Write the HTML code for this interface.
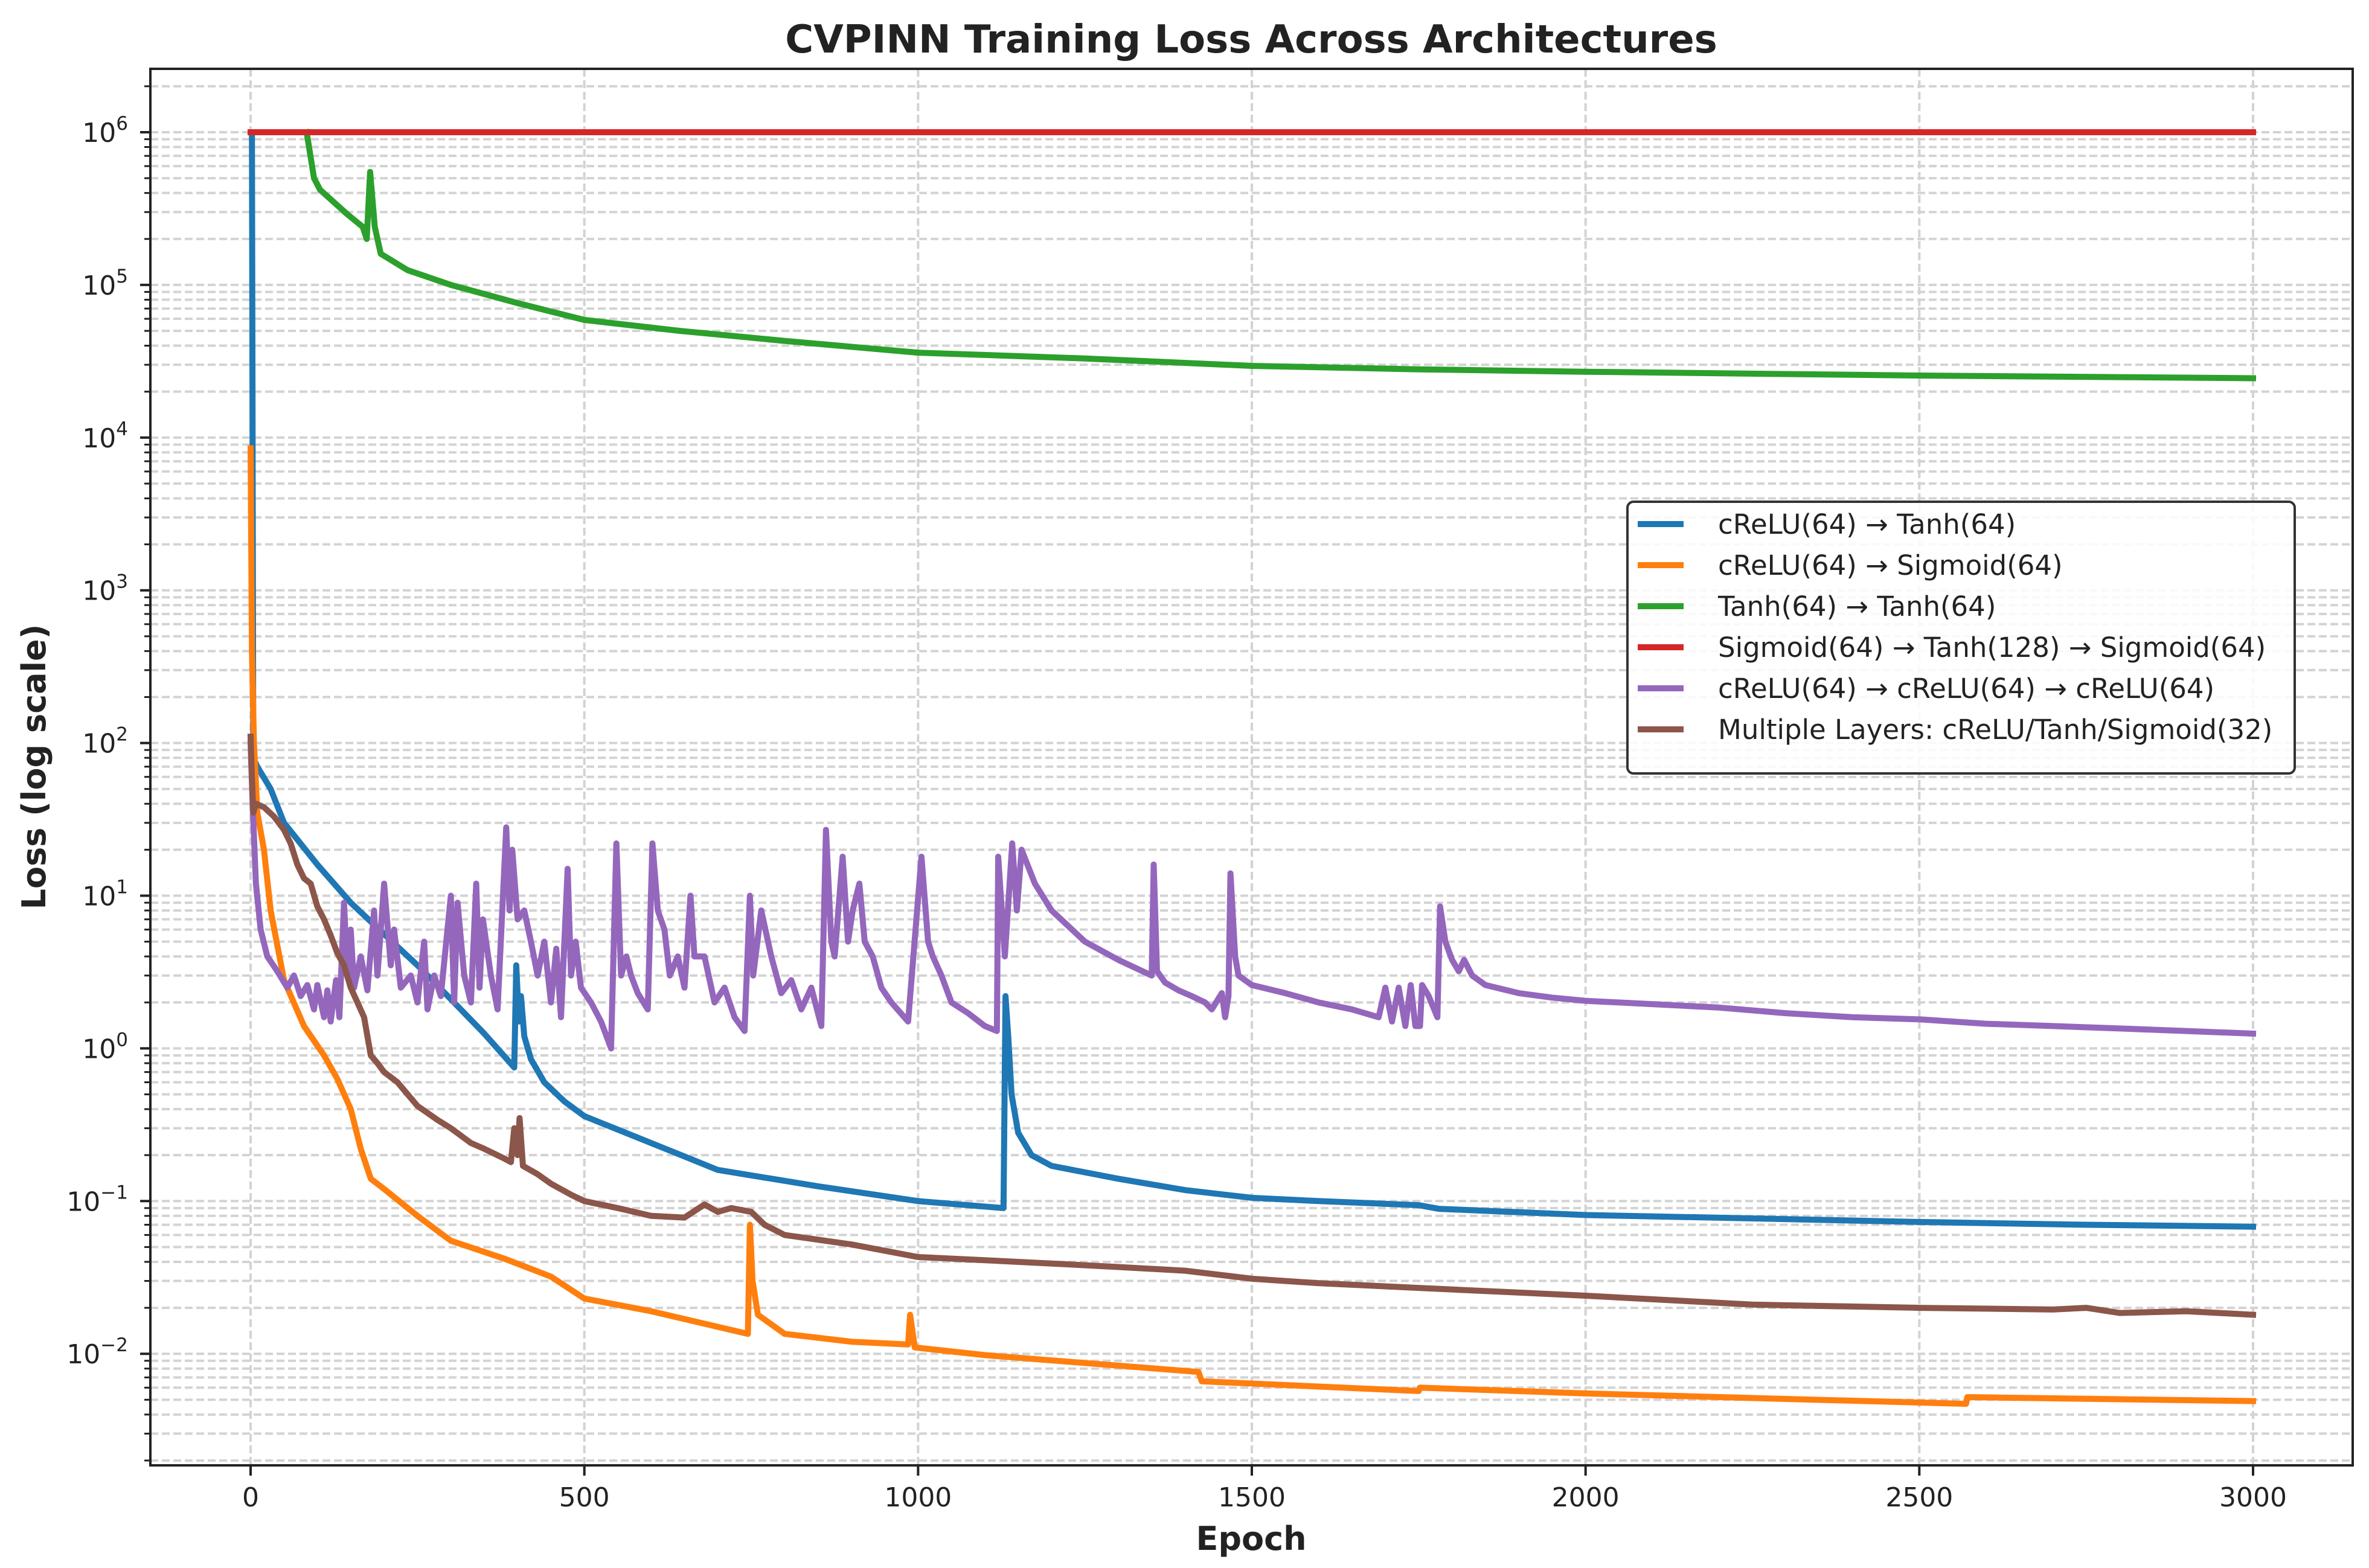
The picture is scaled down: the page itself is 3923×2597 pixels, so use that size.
<!DOCTYPE html>
<html><head><meta charset="utf-8">
<style>
html,body{margin:0;padding:0;background:#fff;}
svg{display:block;font-family:"DejaVu Sans","Liberation Sans",sans-serif;}
</style></head>
<body>
<svg id="chart" xmlns="http://www.w3.org/2000/svg" width="3923" height="2597" viewBox="0 0 3923 2597">
<rect x="0" y="0" width="3923" height="2597" fill="#fff"/>
<g id="grid"></g>
<g id="series"></g>
<g id="axes"></g>
<text x="2072" y="87" text-anchor="middle" font-size="64" font-weight="bold" fill="#222">CVPINN Training Loss Across Architectures</text>
<text x="2072" y="2567" text-anchor="middle" font-size="54" font-weight="bold" fill="#222">Epoch</text>
<text x="0" y="0" transform="translate(75,1270) rotate(-90)" text-anchor="middle" font-size="54" font-weight="bold" fill="#222">Loss (log scale)</text>
<g id="legend"></g>
</svg>
<script>
const xTicks = [0, 500, 1000, 1500, 2000, 2500, 3000];
const yDecades = [-2, -1, 0, 1, 2, 3, 4, 5, 6];
const seriesNames = ["cReLU(64) \u2192 Tanh(64)", "cReLU(64) \u2192 Sigmoid(64)", "Tanh(64) \u2192 Tanh(64)", "Sigmoid(64) \u2192 Tanh(128) \u2192 Sigmoid(64)", "cReLU(64) \u2192 cReLU(64) \u2192 cReLU(64)", "Multiple Layers: cReLU/Tanh/Sigmoid(32)"];
const seriesColors = ["#1f77b4", "#ff7f0e", "#2ca02c", "#d62728", "#9467bd", "#8c564b"];

const blueData = [[0,1e6],[2,1e6],[4,80],[10,70],[30,50],[50,30],[100,16],[150,9],[200,5.6],[250,3.5],[300,2.1],[350,1.25],[395,0.75],[398,3.5],[402,1.5],[405,2.2],[410,1.2],[420,0.85],[440,0.6],[470,0.45],[500,0.36],[600,0.24],[700,0.16],[850,0.125],[1000,0.1],[1128,0.09],[1131,2.2],[1135,1.2],[1140,0.5],[1150,0.28],[1170,0.2],[1200,0.17],[1300,0.14],[1400,0.118],[1500,0.105],[1600,0.1],[1750,0.094],[1780,0.089],[2000,0.081],[2250,0.077],[2500,0.073],[2750,0.07],[3000,0.068]];
const orangeData = [[0,8500],[2,400],[5,100],[10,35],[20,20],[30,8],[50,2.8],[80,1.4],[110,0.9],[130,0.63],[150,0.4],[165,0.22],[180,0.14],[200,0.12],[250,0.08],[300,0.055],[380,0.042],[450,0.032],[500,0.023],[600,0.019],[745,0.0135],[748,0.07],[752,0.03],[760,0.018],[800,0.0135],[900,0.012],[985,0.0115],[988,0.018],[995,0.011],[1100,0.0098],[1420,0.0076],[1425,0.0066],[1750,0.0057],[1752,0.006],[2000,0.0055],[2570,0.0047],[2572,0.0052],[3000,0.0049]];
const greenData = [[84,1e6],[95,5e5],[104,4.2e5],[145,2.9e5],[168,2.4e5],[174,2.0e5],[179,5.5e5],[186,2.4e5],[195,1.6e5],[235,1.25e5],[300,1.0e5],[400,7.6e4],[500,5.9e4],[643,5.0e4],[800,4.3e4],[1000,3.6e4],[1250,3.3e4],[1500,2.95e4],[1750,2.8e4],[2000,2.7e4],[2500,2.55e4],[3000,2.45e4]];
const redData = [[0,1e6],[3000,1e6]];
const purpleData = [[0,100],[3,40],[8,12],[15,6],[25,4],[40,3.2],[55,2.5],[65,3],[75,2.2],[85,2.6],[95,1.8],[100,2.6],[110,1.6],[115,2.4],[120,1.5],[128,2.8],[133,1.6],[140,9],[145,3],[150,6],[155,2.5],[165,4],[175,2.4],[185,8],[190,3],[200,12],[210,3.5],[215,6],[225,2.5],[240,3],[250,2],[260,5],[265,1.8],[275,3],[285,2.2],[300,10],[305,2],[310,9],[320,3],[330,2],[338,12],[343,2.5],[348,7],[360,3],[370,1.8],[383,28],[388,8],[392,20],[400,7],[410,8],[420,5],[430,3],[440,5],[450,2],[458,4.5],[465,1.6],[475,15],[480,3],[487,5],[495,2.5],[510,2],[525,1.5],[540,1.0],[548,22],[555,3],[563,4],[570,3],[580,2.3],[595,1.8],[602,22],[610,8],[620,6],[628,3],[640,4],[650,2.5],[659,10],[665,4],[680,4],[695,2],[710,2.5],[725,1.6],[740,1.3],[748,10],[753,3],[765,8],[780,4],[795,2.3],[810,2.8],[825,1.8],[840,2.5],[855,1.4],[862,27],[870,5],[875,4],[887,18],[895,5],[902,8],[912,12],[920,5],[932,4],[945,2.5],[960,2],[985,1.5],[1005,18],[1015,5],[1022,4],[1035,3],[1050,2],[1075,1.7],[1100,1.4],[1118,1.3],[1120,18],[1130,4],[1141,22],[1148,8],[1155,20],[1175,12],[1200,8],[1250,5],[1300,3.8],[1350,3],[1353,16],[1358,3.2],[1370,2.7],[1390,2.4],[1410,2.2],[1430,2.0],[1440,1.8],[1455,2.3],[1460,1.6],[1465,2.2],[1468,14],[1475,4],[1480,3],[1500,2.6],[1550,2.3],[1600,2.0],[1650,1.8],[1690,1.6],[1700,2.5],[1710,1.5],[1720,2.5],[1730,1.4],[1738,2.6],[1745,1.4],[1752,1.4],[1755,2.6],[1765,2.2],[1778,1.6],[1782,8.5],[1790,5],[1800,3.8],[1810,3.2],[1818,3.8],[1830,3],[1850,2.6],[1900,2.3],[1950,2.15],[2000,2.05],[2100,1.95],[2200,1.85],[2300,1.7],[2400,1.6],[2500,1.55],[2600,1.45],[2700,1.4],[2800,1.35],[2900,1.3],[3000,1.25]];
const brownData = [[0,110],[2,60],[4,35],[8,40],[20,38],[35,33],[50,27],[60,22],[70,16],[80,13],[90,12],[100,8.5],[110,7],[120,5.5],[130,4.2],[140,3.5],[150,2.5],[160,2.0],[170,1.6],[180,0.9],[190,0.8],[200,0.7],[220,0.6],[250,0.42],[280,0.34],[300,0.3],[330,0.24],[350,0.22],[380,0.19],[390,0.18],[395,0.3],[400,0.2],[403,0.35],[408,0.17],[430,0.15],[450,0.13],[480,0.11],[500,0.1],[550,0.09],[600,0.08],[650,0.078],[680,0.095],[700,0.085],[720,0.09],[750,0.085],[770,0.07],[800,0.06],[900,0.052],[1000,0.043],[1100,0.041],[1200,0.039],[1300,0.037],[1400,0.035],[1500,0.031],[1600,0.029],[1750,0.027],[2000,0.024],[2250,0.021],[2500,0.02],[2700,0.0195],[2750,0.02],[2800,0.0185],[2900,0.019],[3000,0.018]];

const plotL = 249, plotR = 3896, plotT = 114, plotB = 2427;
const x0 = 415, xPerEpoch = 3316 / 3000;
const y6 = 219, decadePx = 252.9;
function xS(e){ return x0 + e * xPerEpoch; }
function yS(v){ return y6 + (6 - Math.log10(v)) * decadePx; }
const NS = "http://www.w3.org/2000/svg";
function mk(tag, attrs, parent){ const el = document.createElementNS(NS, tag); for (const k in attrs) el.setAttribute(k, attrs[k]); parent.appendChild(el); return el; }

const grid = document.getElementById('grid');
const axes = document.getElementById('axes');
const seriesG = document.getElementById('series');
const legend = document.getElementById('legend');

for (let d = -3; d <= 6; d++) {
  for (let m = 1; m <= 9; m++) {
    const v = m * Math.pow(10, d);
    const y = yS(v);
    if (y < plotT + 2 || y > plotB - 2) continue;
    const gl = mk('line', {x1: plotL, x2: plotR, y1: y, y2: y, stroke: '#d3d3d3', 'stroke-width': 4, 'stroke-dasharray': '13,6'}, grid);
    
    
    const tk = mk('line', {x1: plotL - (m === 1 ? 17 : 10), x2: plotL, y1: y, y2: y, stroke: '#222', 'stroke-width': m === 1 ? 4 : 3}, axes);
    
    
  }
}
yDecades.forEach(d => {
  const y = yS(Math.pow(10, d));
  const t = mk('text', {x: 212, y: y + 16, 'text-anchor': 'end', 'font-size': 44, fill: '#222'}, axes);
  
  
  const base = document.createElementNS(NS, 'tspan'); base.textContent = '10'; t.appendChild(base);
  const sup = document.createElementNS(NS, 'tspan'); sup.setAttribute('dy', -20); sup.setAttribute('font-size', 31);
  sup.textContent = d < 0 ? '\u2212' + (-d) : String(d); t.appendChild(sup);
});
xTicks.forEach(e => {
  const x = xS(e);
  const gl = mk('line', {x1: x, x2: x, y1: plotT, y2: plotB, stroke: '#d3d3d3', 'stroke-width': 4, 'stroke-dasharray': '13,6'}, grid);
  
  
  const tk = mk('line', {x1: x, x2: x, y1: plotB, y2: plotB + 17, stroke: '#222', 'stroke-width': 4}, axes);
  
  
  const t = mk('text', {x: x, y: 2495, 'text-anchor': 'middle', 'font-size': 44, fill: '#222'}, axes);
  t.textContent = String(e);
  
  
});
const frame = mk('rect', {x: plotL, y: plotT, width: plotR - plotL, height: plotB - plotT, fill: 'none', stroke: '#222', 'stroke-width': 4}, axes);



const allData = [blueData, orangeData, greenData, redData, purpleData, brownData];
const seriesKeys = ['series-crelu-tanh', 'series-crelu-sigmoid', 'series-tanh-tanh', 'series-sigmoid-tanh-sigmoid', 'series-crelu-x3', 'series-multiple-layers'];
const order = [0, 1, 2, 4, 5, 3];
order.forEach(i => {
  const pts = allData[i].map(p => xS(p[0]).toFixed(1) + ',' + yS(p[1]).toFixed(1)).join(' ');
  const pl = mk('polyline', {points: pts, fill: 'none', stroke: seriesColors[i], 'stroke-width': 10, 'stroke-linejoin': 'round', 'stroke-linecap': 'square'}, seriesG);
  
  
});

const lb = mk('rect', {x: 2695, y: 831, width: 1105, height: 450, rx: 10, fill: 'rgba(255,255,255,0.85)', stroke: '#333', 'stroke-width': 4}, legend);


seriesNames.forEach((n, i) => {
  const y = 868 + i * 68;
  const ln = mk('line', {x1: 2712, x2: 2788, y1: y, y2: y, stroke: seriesColors[i], 'stroke-width': 10}, legend);
  
  
  const t = mk('text', {x: 2845, y: y + 16, 'font-size': 45, fill: '#222'}, legend);
  t.textContent = n;
  
  
});
</script>
</body></html>
